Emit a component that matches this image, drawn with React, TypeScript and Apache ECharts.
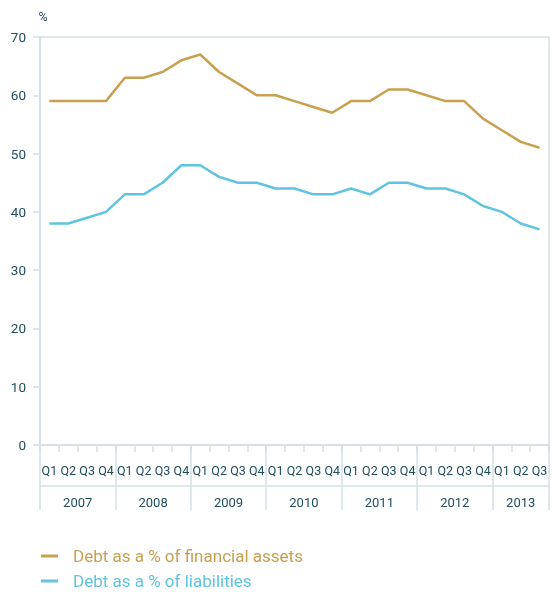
import React, { useEffect, useRef } from "react";
import * as echarts from "echarts";

const years = ["2007", "2008", "2009", "2010", "2011", "2012", "2013"];
const quartersPerYear = [4, 4, 4, 4, 4, 4, 3];
const quarterNames = ["Q1", "Q2", "Q3", "Q4"];

const financialAssets = [
  59, 59, 59, 59,
  63, 63, 64, 66,
  67, 64, 62, 60,
  60, 59, 58, 57,
  59, 59, 61, 61,
  60, 59, 59, 56,
  54, 52, 51,
];
const liabilities = [
  38, 38, 39, 40,
  43, 43, 45, 48,
  48, 46, 45, 45,
  44, 44, 43, 43,
  44, 43, 45, 45,
  44, 44, 43, 41,
  40, 38, 37,
];

const seriesNames = ["Debt as a % of financial assets", "Debt as a % of liabilities"];
const GOLD = "#C9A050";
const BLUE = "#5EC4E0";
const TEXT = "#1F4E5F";
const AXIS = "#D3DFE4";
const FONT = "Roboto, 'Noto Sans', sans-serif";

export default function App() {
  const ref = useRef<HTMLDivElement>(null);

  useEffect(() => {
    if (!ref.current) return;
    const chart = echarts.init(ref.current, undefined, { renderer: "svg" });

    const quarterLabels: string[] = [];
    const yearBounds: number[] = [0];
    const yearCenters: number[] = [];
    let acc = 0;
    quartersPerYear.forEach((n) => {
      for (let i = 0; i < n; i++) quarterLabels.push(quarterNames[i]);
      yearCenters.push(acc + n / 2);
      acc += n;
      yearBounds.push(acc);
    });
    const total = acc;

    chart.setOption({
      animation: false,
      grid: {
        left: 40,
        right: 3,
        top: 37,
        bottom: 147,
        show: true,
        borderColor: AXIS,
        borderWidth: 1.5,
        containLabel: false,
      },
      legend: {
        orient: "vertical",
        left: 41,
        top: 547,
        height: 45,
        padding: 0,
        icon: "rect",
        itemWidth: 17,
        itemHeight: 3,
        itemGap: 7,
        data: [
          { name: seriesNames[0], textStyle: { color: GOLD } },
          { name: seriesNames[1], textStyle: { color: BLUE } },
        ],
        textStyle: { fontFamily: FONT, fontSize: 17, lineHeight: 18, padding: [0, 0, 0, 10] },
      },
      xAxis: [
        {
          type: "category",
          data: quarterLabels,
          boundaryGap: true,
          position: "bottom",
          axisLine: { show: true, lineStyle: { color: AXIS, width: 1.5 } },
          axisTick: { show: true, interval: 0, length: 7, lineStyle: { color: AXIS, width: 1.5 } },
          axisLabel: { interval: 0, color: TEXT, fontFamily: FONT, fontSize: 12.5, margin: 19 },
          splitLine: { show: false },
        },
        {
          type: "value",
          min: 0,
          max: total,
          position: "bottom",
          offset: 41,
          axisLine: { show: true, lineStyle: { color: AXIS, width: 1.5 } },
          axisTick: { show: false },
          axisLabel: { show: false },
          splitLine: { show: false },
        },
        {
          type: "value",
          min: 0,
          max: total,
          position: "bottom",
          offset: 65,
          axisLine: { show: false },
          axisTick: {
            show: true,
            inside: true,
            length: 65,
            customValues: yearBounds,
            lineStyle: { color: AXIS, width: 1.5 },
          },
          axisLabel: {
            show: true,
            inside: true,
            margin: 1,
            customValues: yearCenters,
            formatter: (v: number) => {
              const i = yearCenters.findIndex((c) => Math.abs(c - v) < 1e-6);
              return i >= 0 ? years[i] : "";
            },
            color: TEXT,
            fontFamily: FONT,
            fontSize: 13,
          },
          splitLine: { show: false },
        },
      ],
      yAxis: {
        type: "value",
        min: 0,
        max: 70,
        interval: 10,
        name: "%",
        nameLocation: "end",
        nameGap: 14,
        nameTextStyle: { color: TEXT, fontFamily: FONT, fontSize: 12.5, padding: [0, 0, 0, 6] },
        axisLine: { show: true, lineStyle: { color: AXIS, width: 1.5 } },
        axisTick: { show: true, length: 7, lineStyle: { color: AXIS, width: 1.5 } },
        axisLabel: { color: TEXT, fontFamily: FONT, fontSize: 13.5, margin: 14 },
        splitLine: { show: false },
      },
      series: [
        {
          name: seriesNames[0],
          type: "line",
          xAxisIndex: 0,
          data: financialAssets,
          symbol: "none",
          lineStyle: { color: GOLD, width: 2.5 },
          itemStyle: { color: GOLD },
        },
        {
          name: seriesNames[1],
          type: "line",
          xAxisIndex: 0,
          data: liabilities,
          symbol: "none",
          lineStyle: { color: BLUE, width: 2.5 },
          itemStyle: { color: BLUE },
        },
      ],
    });

    return () => chart.dispose();
  }, []);

  return (
    <div
      ref={ref}
      style={{ position: "fixed", left: 0, top: 0, width: 552, height: 592 }}
    />
  );
}
